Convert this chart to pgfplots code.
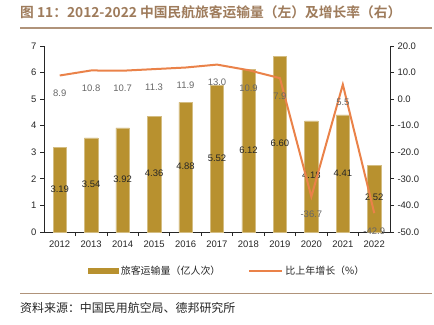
\documentclass[border=0pt]{standalone}
\usepackage{pgfplots}
\usepackage{pgfplotstable}
\pgfplotsset{compat=1.18}
\usepackage{fontspec}
\setmainfont{Liberation Sans}
\newfontfamily\cjk{Noto Sans CJK SC}[BoldFont={Noto Sans CJK SC Bold}]
\definecolor{barc}{HTML}{B8912F}
\definecolor{linec}{HTML}{EA8249}
\definecolor{titlec}{HTML}{9E7B5B}
\definecolor{rulec}{HTML}{B0937A}
\definecolor{txt}{HTML}{262626}
\definecolor{glab}{HTML}{666666}

\pgfplotstableread{
x bar half lab g glab
2012 3.19 1.62 3.19 8.9 8.9
2013 3.54 1.80 3.54 10.8 10.8
2014 3.92 1.99 3.92 10.7 10.7
2015 4.36 2.21 4.36 11.3 11.3
2016 4.88 2.47 4.88 11.9 11.9
2017 5.52 2.79 5.52 13.0 13.0
2018 6.12 3.09 6.12 10.9 10.9
2019 6.60 3.33 6.60 7.9 7.9
2020 4.18 2.12 4.18 -36.7 -36.7
2021 4.41 2.23 4.41 5.5 5.5
2022 2.52 1.29 2.52 -42.9 -42.9
}\data

\begin{document}
\begin{tikzpicture}[x=1bp,y=1bp]
\useasboundingbox (0,0) rectangle (434,324);
\node[anchor=west, inner sep=0, text=titlec, font=\cjk\bfseries\fontsize{13.8}{16}\selectfont] at (20,312) {图 11：2012-2022 中国民航旅客运输量（左）及增长率（右）};
\draw[rulec, line width=1.5bp] (20,296) -- (432,296);
\draw[rulec, line width=1bp] (20,31) -- (432,31);
\node[anchor=west, inner sep=0, text=txt, font=\cjk\fontsize{12}{14}\selectfont] at (20,16) {资料来源：中国民用航空局、德邦研究所};

\begin{axis}[
  at={(44bp,92bp)}, anchor=south west,
  scale only axis, width=346bp, height=186bp,
  xmin=2011.5, xmax=2022.5, ymin=0, ymax=7,
  axis x line*=bottom, axis y line*=left,
  axis line style={txt, line width=0.8bp},
  tick style={txt, line width=0.8bp},
  tick align=outside,
  xtick={2012,...,2022}, major x tick style={draw=none},
  extra x ticks={2012.5,2013.5,...,2021.5}, extra x tick labels={},
  extra x tick style={major x tick style={draw=txt}, major tick length=4bp},
  ytick={0,1,...,7}, major tick length=4bp,
  x tick label style={/pgf/number format/1000 sep={}},
  /pgf/number format/assume math mode=true,
  tick label style={font=\fontsize{9.5}{11}\selectfont, text=txt},
  xticklabel style={yshift=-1bp},
  clip=false,
]
\addplot[ybar, bar width=13.4bp, fill=barc, draw=barc!60!white, line width=0.5bp] table[x=x,y=bar] {\data};
\addplot[draw=none, nodes near coords, point meta=explicit symbolic,
  every node near coord/.append style={anchor=center, font=\fontsize{9.5}{11}\selectfont, text=txt}]
  table[x=x,y=half,meta=lab] {\data};
\end{axis}

\begin{axis}[
  at={(44bp,92bp)}, anchor=south west,
  scale only axis, width=346bp, height=186bp,
  xmin=2011.5, xmax=2022.5, ymin=-50, ymax=20,
  axis y line*=right, axis x line=none,
  axis line style={txt, line width=0.8bp},
  tick style={txt, line width=0.8bp},
  tick align=outside, major tick length=4bp,
  ytick={-50,-40,...,20},
  yticklabel style={/pgf/number format/.cd, fixed, fixed zerofill, precision=1},
  /pgf/number format/assume math mode=true,
  tick label style={font=\fontsize{9.5}{11}\selectfont, text=txt},
  clip=false,
  legend style={at={(0.53,-0.21)}, anchor=center, draw=none, fill=none,
    font=\cjk\fontsize{10}{12}\selectfont, text=txt,
    /tikz/every even column/.append style={column sep=26bp}},
  legend columns=2,
]
\addlegendimage{barc, fill=barc, legend image code/.code={\fill[barc] (0bp,-2.5bp) rectangle (30bp,2.5bp);}}
\addlegendentry{旅客运输量（亿人次）}
\addplot[linec, line width=2bp, mark=none,
  nodes near coords, point meta=explicit symbolic,
  every node near coord/.append style={anchor=center, yshift=-18bp, font=\fontsize{9.5}{11}\selectfont, text=glab},
  legend image code/.code={\draw[linec, line width=2bp] (0bp,0bp) -- (33bp,0bp);}]
  table[x=x,y=g,meta=glab] {\data};
\addlegendentry{比上年增长（\%）}
\end{axis}
\end{tikzpicture}
\end{document}
